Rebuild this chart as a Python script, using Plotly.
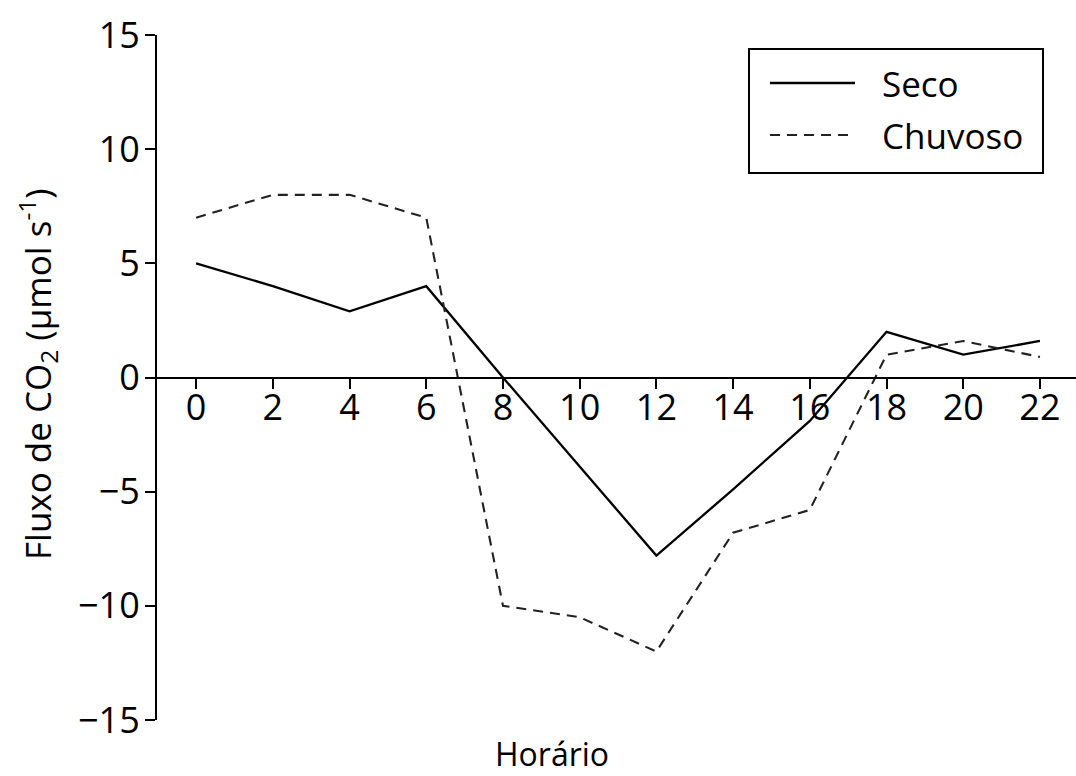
import plotly.graph_objects as go

# Hourly CO2 flux, dry vs. rainy season
horas = [0, 2, 4, 6, 8, 10, 12, 14, 16, 18, 20, 22]
seco = [5, 4, 2.9, 4, 0, -3.9, -7.8, -4.9, -1.9, 2, 1, 1.6]
chuvoso = [7, 8, 8, 7, -10, -10.5, -12, -6.8, -5.8, 1, 1.6, 0.9]
x_ticks = [0, 2, 4, 6, 8, 10, 12, 14, 16, 18, 20, 22]
y_ticks = [-15, -10, -5, 0, 5, 10, 15]

FONT = "Open Sans"
TICK_FS = 36
LEG_FS = 35

fig = go.Figure()
fig.add_trace(go.Scatter(x=horas, y=seco, mode="lines", name="Seco",
                         line=dict(color="black", width=2.3)))
fig.add_trace(go.Scatter(x=horas, y=chuvoso, mode="lines", name="Chuvoso",
                         line=dict(color="#222", width=2.1, dash="10px,7px")))

# plot area in pixels: x 157..1076, y 35..720
L, R, T, B = 157, 1076, 35, 720
W, H = R - L, B - T


def px(x):
    return (x - L) / W


def py(y):
    return (B - y) / H


fig.update_layout(
    width=1076, height=776,
    margin=dict(l=L, r=1076 - R, t=T, b=776 - B),
    paper_bgcolor="white", plot_bgcolor="white",
    showlegend=False,
    font=dict(family=FONT, size=TICK_FS, color="black"),
    xaxis=dict(range=[-1.02, 22.94], tickvals=x_ticks, showgrid=False, zeroline=False,
               showline=True, linecolor="black", linewidth=2,
               ticks="outside", ticklen=10, tickwidth=1.6, tickcolor="black",
               anchor="free", position=0.5, ticklabelstandoff=-12,
               tickfont=dict(family=FONT, size=TICK_FS)),
    yaxis=dict(range=[-15, 15], tickvals=y_ticks, showgrid=False, zeroline=False,
               showline=True, linecolor="black", linewidth=2,
               ticks="outside", ticklen=10, tickwidth=1.6, tickcolor="black",
               ticklabelstandoff=-2,
               tickfont=dict(family=FONT, size=TICK_FS)),
)

# axis titles
fig.add_annotation(text="Horário", xref="paper", yref="paper",
                   x=px(552), y=py(754), showarrow=False,
                   font=dict(family=FONT, size=32), xanchor="center", yanchor="middle")
fig.add_annotation(text="Fluxo de CO<sub>2</sub> (µmol s<sup>-1</sup>)", xref="paper", yref="paper",
                   x=px(37), y=py(374), showarrow=False, textangle=-90,
                   font=dict(family=FONT, size=35), xanchor="center", yanchor="middle")

# legend box
fig.add_shape(type="rect", xref="paper", yref="paper",
              x0=px(749), x1=px(1043), y0=py(49), y1=py(173),
              line=dict(color="black", width=2), fillcolor="white", layer="above")
fig.add_shape(type="line", xref="paper", yref="paper",
              x0=px(770), x1=px(855), y0=py(83), y1=py(83),
              line=dict(color="black", width=2.3))
fig.add_shape(type="line", xref="paper", yref="paper",
              x0=px(770), x1=px(855), y0=py(135), y1=py(135),
              line=dict(color="#222", width=2.1, dash="10px,7px"))
fig.add_annotation(text="Seco", xref="paper", yref="paper", x=px(880), y=py(83),
                   showarrow=False, xanchor="left", yanchor="middle",
                   font=dict(family=FONT, size=LEG_FS))
fig.add_annotation(text="Chuvoso", xref="paper", yref="paper", x=px(880), y=py(135),
                   showarrow=False, xanchor="left", yanchor="middle",
                   font=dict(family=FONT, size=LEG_FS))

fig.write_html("out.html")
